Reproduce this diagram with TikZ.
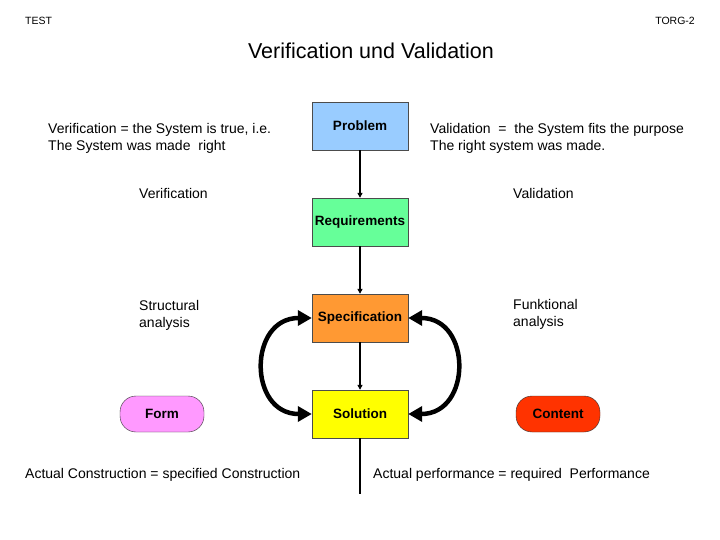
\documentclass[tikz,border=0pt]{standalone}
\usepackage{fontspec}
\setmainfont{Liberation Sans}
\usetikzlibrary{arrows.meta}
\definecolor{cProblem}{RGB}{153,204,255}
\definecolor{cReq}{RGB}{102,255,153}
\definecolor{cSpec}{RGB}{255,153,51}
\definecolor{cSol}{RGB}{255,255,0}
\definecolor{cForm}{RGB}{255,153,255}
\definecolor{cContent}{RGB}{255,51,0}
\begin{document}
\begin{tikzpicture}[x=1pt,y=-1pt,
  box/.style={draw=black!70,minimum width=96pt,minimum height=48pt,inner sep=0pt,font=\fontsize{13.5}{16}\selectfont\bfseries},
  pill/.style={draw=black!80,rounded corners=16pt,minimum width=84pt,minimum height=36pt,inner sep=0pt,font=\fontsize{13.5}{16}\selectfont\bfseries},
  lbl/.style={anchor=west,align=left,inner sep=0pt,font=\fontsize{14}{17}\selectfont},
  thin/.style={line width=1.2pt,-{Triangle[length=5pt,width=5pt]}},
  thick/.style={line width=4.5pt,{Triangle[length=14pt,width=15pt]}-{Triangle[length=14pt,width=15pt]}}]
\useasboundingbox[fill=white] (0,0) rectangle (720,540);
\node[anchor=west,inner sep=0pt,font=\fontsize{10.5}{12}\selectfont] (test) at (25,21) {TEST};
\node[anchor=east,inner sep=0pt,font=\fontsize{10.5}{12}\selectfont] (torg) at (695,21) {TORG-2};
\node[inner sep=0pt,font=\fontsize{21.5}{24}\selectfont] (title) at (371,51) {Verification und Validation};

\node[box,fill=cProblem] (prob) at (360,126) {Problem};
\node[box,fill=cReq] (req) at (360,222) {Requirements};
\node[box,fill=cSpec] (spec) at (360,318) {Specification};
\node[box,fill=cSol] (sol) at (360,414) {Solution};
\node[pill,fill=cForm] (form) at (162,414) {Form};
\node[pill,fill=cContent] (content) at (558,414) {Content};
\coordinate (end) at (360,494);

\node[lbl] (verdef) at (48,138.5) {Verification = the System is true, i.e.\\The System was made\ \ right};
\node[lbl] (valdef) at (430,138.5) {Validation\ \ =\ \ the System fits the purpose\\The right system was made.};
\node[lbl] (ver) at (139,193) {Verification};
\node[lbl] (val) at (513,193) {Validation};
\node[lbl] (struct) at (139,315) {Structural\\analysis};
\node[lbl] (funk) at (513,314.5) {Funktional\\analysis};
\node[lbl] (acc) at (25,475) {Actual Construction = specified Construction};
\node[lbl] (apr) at (373,475) {Actual performance = required\ \ Performance};

\draw[thin] (prob) -- (req);
\draw[thin] (req) -- (spec);
\draw[thin] (spec) -- (sol);
\draw[line width=1.2pt] (sol) -- (end);
\draw[thick] (spec.west) .. controls (248,318) and (248,414) .. (sol.west);
\draw[thick] (spec.east) .. controls (472,318) and (472,414) .. (sol.east);
\end{tikzpicture}
\end{document}
